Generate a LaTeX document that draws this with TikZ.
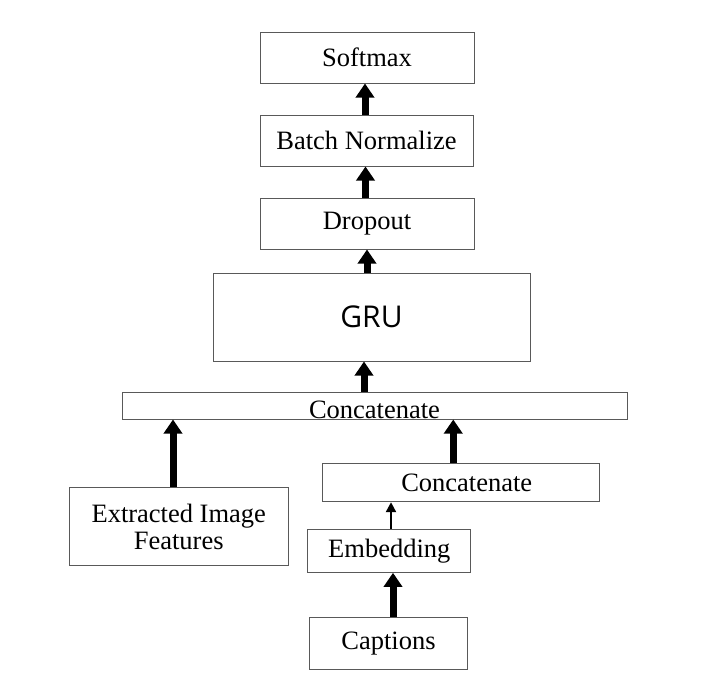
\documentclass[tikz,border=0pt]{standalone}
\usepackage{fontspec}
\setmainfont{Liberation Serif}
\newfontfamily\grufont{Open Sans}
\usetikzlibrary{arrows.meta}

\begin{document}
\begin{tikzpicture}[x=1pt, y=-1pt,
    layer/.style={draw=black!65, line width=1pt, inner sep=0pt, align=center,
        font=\fontsize{26.5}{27}\selectfont},
    fatarrow/.style={line width=7pt, -{Triangle[length=14pt,width=18pt]}},
    thinarrow/.style={line width=2.3pt, -{Triangle[length=10pt,width=10pt]}}]
    \useasboundingbox (0,0) rectangle (715,683);

    % output layers
    \node[layer, minimum width=214pt, minimum height=51pt] (softmax) at (367,57.5) {Softmax};
    \node[layer, minimum width=213pt, minimum height=51pt] (batchnorm) at (366.5,140.5) {Batch Normalize};
    \node[layer, minimum width=214pt, minimum height=51pt] (dropout) at (367,223.5) {Dropout};

    % recurrent part
    \node[layer, minimum width=317pt, minimum height=88pt,
        font=\grufont\fontsize{30}{32}\selectfont] (gru) at (371.5,317) {GRU};
    \node[layer, minimum width=505pt, minimum height=27pt,
        text height=25pt, text depth=0pt] (concatbig) at (374.5,405.5) {Concatenate};

    % inputs
    \node[layer, minimum width=219.5pt, minimum height=77.6pt] (features) at (178.75,526.5) {Extracted Image\\Features};
    \node[layer, minimum width=277.5pt, minimum height=38.4pt] (concatsmall) at (460.75,482.5) {\hspace{12pt}Concatenate};
    \node[layer, minimum width=163.3pt, minimum height=43pt] (embedding) at (389.3,550.8) {Embedding};
    \node[layer, minimum width=158.4pt, minimum height=52.3pt] (captions) at (388.5,643.8) {Captions};

    % arrows
    \draw[fatarrow] ([xshift=-1.5pt]batchnorm.north) -- ([xshift=-1.5pt]batchnorm.north |- softmax.south);
    \draw[fatarrow] ([xshift=-1.5pt]dropout.north) -- ([xshift=-1.5pt]dropout.north |- batchnorm.south);
    \draw[fatarrow] ([xshift=-4.5pt]gru.north) -- ([xshift=-4.5pt]gru.north |- dropout.south);
    \draw[fatarrow] ([xshift=-10.5pt]concatbig.north) -- ([xshift=-10.5pt]concatbig.north |- gru.south);
    \draw[fatarrow] ([xshift=-5.75pt]features.north) -- ([xshift=-5.75pt]features.north |- concatbig.south);
    \draw[fatarrow] ([xshift=-7.5pt]concatsmall.north) -- ([xshift=-7.5pt]concatsmall.north |- concatbig.south);
    \draw[thinarrow] ([xshift=1.7pt]embedding.north) -- ([xshift=1.7pt]embedding.north |- concatsmall.south);
    \draw[fatarrow] ([xshift=4.5pt]captions.north) -- ([xshift=4.5pt]captions.north |- embedding.south);
\end{tikzpicture}
\end{document}
